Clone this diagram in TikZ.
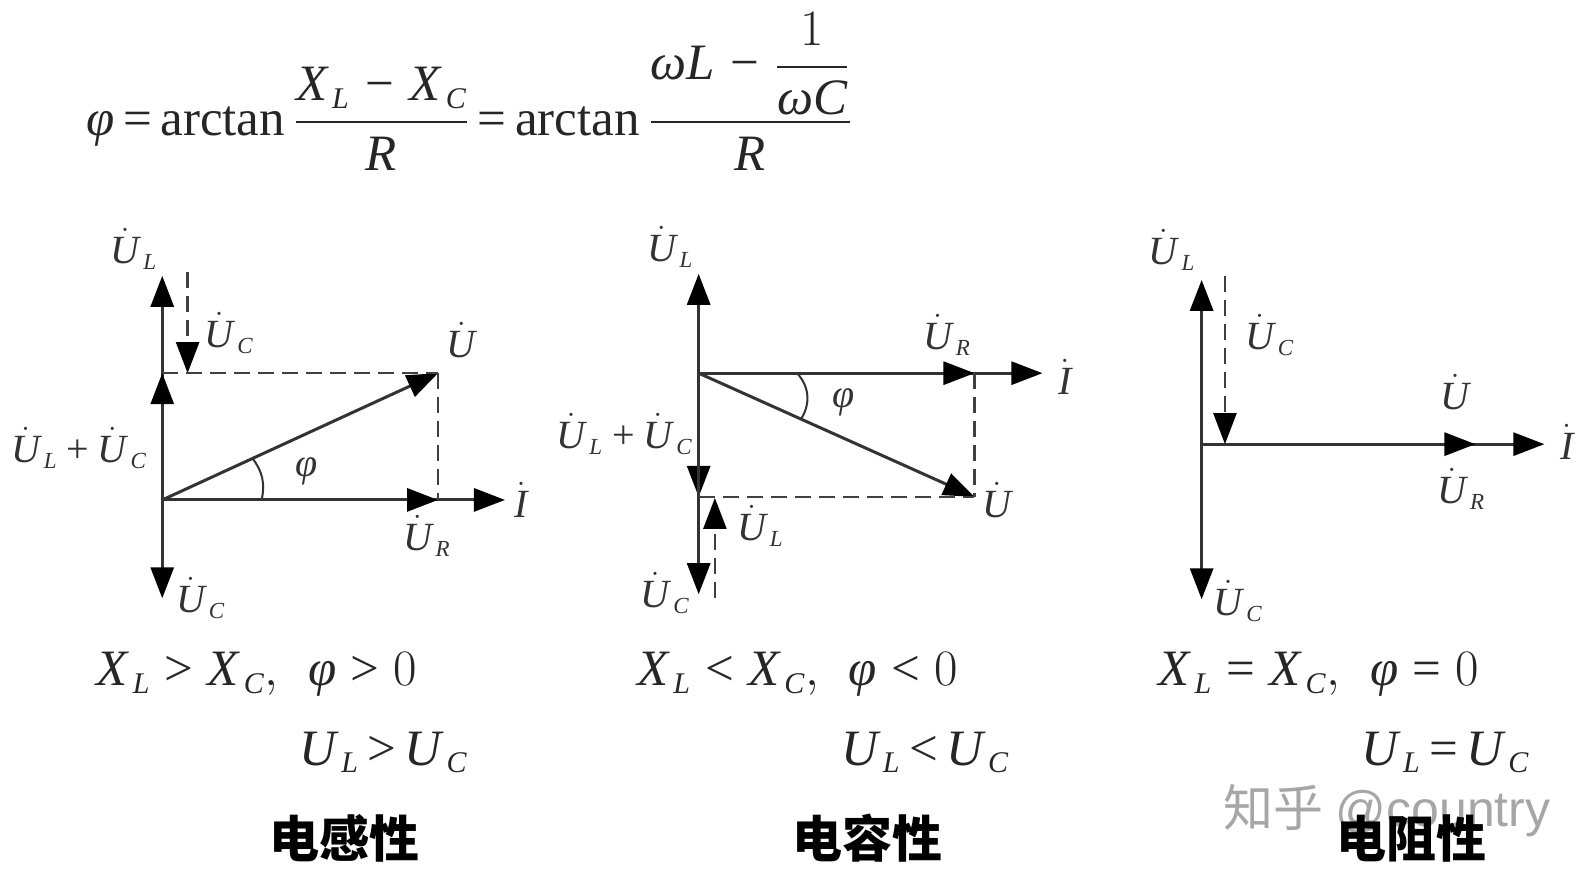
\documentclass[tikz,border=0pt]{standalone}
\usepackage{fix-cm}
\usepackage{amsmath}
\usepackage{fontspec}
\setmainfont{Liberation Serif}
\newfontfamily\cjk{Noto Sans CJK SC}[BoldFont={Noto Sans CJK SC Black}]
\newfontfamily\wmfont{Liberation Sans}
\usetikzlibrary{arrows.meta}
\DeclareMathSizes{25.5}{25.5}{15}{11}
\DeclareMathSizes{20}{20}{11.5}{9}
\newcommand{\dU}[1]{\dot{\mathit{U}}_{\,\mathit{#1}}}
\newcommand{\dV}{\dot{\mathit{U}}}
\newcommand{\dI}{\dot{\mathit{I}}}
\newcommand{\XX}[1]{\mathit{X}_{\,\mathit{#1}}}
\newcommand{\UU}[1]{\mathit{U}_{\,\mathit{#1}}}
\newcommand{\ph}{\text{\itshape φ}}
\newcommand{\om}{\text{\itshape ω}}
\newcommand{\rel}[1]{\mathrel{\text{#1}}}
\newcommand{\bin}[1]{\mathbin{\text{#1}}}
\tikzset{
	vec/.style = {line width=1.5pt, color=black!80, -{Triangle[length=15.5pt,width=11.5pt,color=black]}},
	dashvec/.style = {line width=1.2pt, color=black!75, dash pattern=on 8pt off 4pt, -{Triangle[length=15.5pt,width=11.5pt,color=black]}},
	dashline/.style = {line width=1.3pt, color=black!75, dash pattern=on 8pt off 4pt},
	lbl/.style = {inner sep=0pt, color=black!80, font=\fontsize{20}{24}\selectfont},
	cond/.style = {inner sep=0pt, color=black!85, font=\fontsize{25.5}{30}\selectfont, anchor=west, execute at begin node={\thickmuskip=5mu\relax}},
	condu/.style = {cond, execute at begin node={\thickmuskip=3mu\relax}},
	condf/.style = {cond, execute at begin node={\thickmuskip=3mu\medmuskip=5.5mu\relax}},
	kind/.style = {inner sep=0pt, font=\cjk\bfseries\fontsize{25}{28}\selectfont}
}
\begin{document}
\begin{tikzpicture}[x=0.507pt,y=-0.507pt]
	\useasboundingbox (0,0) rectangle (1568,868);

	% formula
	\node[condf] (formula) at (85,90) {$\ph\rel{=}\text{arctan}\,\dfrac{\XX{L}\bin{−}\XX{C}}{\mathit{R}}\rel{=}\text{arctan}\,\dfrac{\om\mathit{L}\bin{−}\dfrac{1}{\om\mathit{C}}}{\mathit{R}}$};

	% watermark
	\node[inner sep=0pt, color=black!35, font=\fontsize{25}{28}\selectfont, anchor=west] (mark) at (1206,799) {{\cjk 知乎}\ {\wmfont @country}};

	% left
	\coordinate (oa) at (160,493);
	\coordinate (ula) at (160,272);
	\coordinate (sa) at (160,368);
	\coordinate (uca) at (160,590);
	\coordinate (ua) at (432,368);
	\coordinate (ura) at (432,493);
	\coordinate (ia) at (498,493);
	\coordinate (ca1) at (185,268);
	\coordinate (ca2) at (185,368);
	\coordinate (pa1) at (258,493);
	\coordinate (pa2) at (249,452);
	\draw[vec] (oa) -- (ia);
	\draw[vec] (oa) -- (ura);
	\draw[vec] (oa) -- (ula);
	\draw[vec] (oa) -- (sa);
	\draw[vec] (oa) -- (uca);
	\draw[vec] (oa) -- (ua);
	\draw[dashvec] (ca1) -- (ca2);
	\draw[dashline] (sa) -- (ua);
	\draw[dashline] (ua) -- (ura);
	\draw[line width=1pt, color=black!80] (pa1) to[bend right=25] (pa2);
	\node[lbl] (la) at (132,245) {$\dU{L}$};
	\node[lbl] (lb) at (226,328) {$\dU{C}$};
	\node[lbl] (lc) at (455,335) {$\dV$};
	\node[lbl] (ld) at (78,442) {$\dU{L}\bin{+}\dU{C}$};
	\node[lbl] (le) at (514,493) {$\dI$};
	\node[lbl] (lf) at (421,528) {$\dU{R}$};
	\node[lbl] (lg) at (198,590) {$\dU{C}$};
	\node[lbl] (lh) at (302,465) {$\ph$};

	% middle
	\coordinate (ob) at (689,368);
	\coordinate (ulb) at (689,270);
	\coordinate (sb) at (689,490);
	\coordinate (ucb) at (689,586);
	\coordinate (ub) at (961,490);
	\coordinate (urb) at (961,368);
	\coordinate (ib) at (1028,368);
	\coordinate (cb1) at (705,590);
	\coordinate (cb2) at (705,491);
	\coordinate (pb1) at (786,368);
	\coordinate (pb2) at (790,413);
	\draw[vec] (ob) -- (ib);
	\draw[vec] (ob) -- (urb);
	\draw[vec] (ob) -- (ulb);
	\draw[vec] (ob) -- (sb);
	\draw[vec] (ob) -- (ucb);
	\draw[vec] (ob) -- (ub);
	\draw[dashvec] (cb1) -- (cb2);
	\draw[dashline] (sb) -- (ub);
	\draw[dashline] (urb) -- (ub);
	\draw[line width=1pt, color=black!80] (pb1) to[bend left=38] (pb2);
	\node[lbl] (ma) at (661,243) {$\dU{L}$};
	\node[lbl] (mb) at (934,330) {$\dU{R}$};
	\node[lbl] (mc) at (1050,372) {$\dI$};
	\node[lbl] (md) at (832,397) {$\ph$};
	\node[lbl] (me) at (616,428) {$\dU{L}\bin{+}\dU{C}$};
	\node[lbl] (mf) at (983,493) {$\dV$};
	\node[lbl] (mg) at (750,519) {$\dU{L}$};
	\node[lbl] (mh) at (656,585) {$\dU{C}$};

	% right
	\coordinate (oc) at (1185,438);
	\coordinate (ulc) at (1185,276);
	\coordinate (ucc) at (1185,591);
	\coordinate (uc) at (1455,438);
	\coordinate (ic) at (1523,438);
	\coordinate (cc1) at (1208,272);
	\coordinate (cc2) at (1208,438);
	\draw[vec] (oc) -- (ic);
	\draw[vec] (oc) -- (uc);
	\draw[vec] (oc) -- (ulc);
	\draw[vec] (oc) -- (ucc);
	\draw[dashvec] (cc1) -- (cc2);
	\node[lbl] (ra) at (1156,246) {$\dU{L}$};
	\node[lbl] (rb) at (1252,330) {$\dU{C}$};
	\node[lbl] (rc) at (1435,387) {$\dV$};
	\node[lbl] (rd) at (1545,436) {$\dI$};
	\node[lbl] (re) at (1441,482) {$\dU{R}$};
	\node[lbl] (rf) at (1221,593) {$\dU{C}$};

	% conditions
	\node[cond] (xa) at (95,665) {$\XX{L}\rel{>}\XX{C},\ \,\ph\rel{>}0$};
	\node[condu] (ya) at (295,742) {$\UU{L}\rel{>}\UU{C}$};
	\node[cond] (xb) at (628,665) {$\XX{L}\rel{<}\XX{C},\ \,\ph\rel{<}0$};
	\node[condu] (yb) at (829,742) {$\UU{L}\rel{<}\UU{C}$};
	\node[cond] (xc) at (1142,665) {$\XX{L}\rel{=}\XX{C},\ \,\ph\rel{=}0$};
	\node[condu] (yc) at (1342,742) {$\UU{L}\rel{=}\UU{C}$};
	\node[kind] (ka) at (340,827) {电感性};
	\node[kind] (kb) at (855,827) {电容性};
	\node[kind] (kc) at (1392,827) {电阻性};
\end{tikzpicture}
\end{document}
